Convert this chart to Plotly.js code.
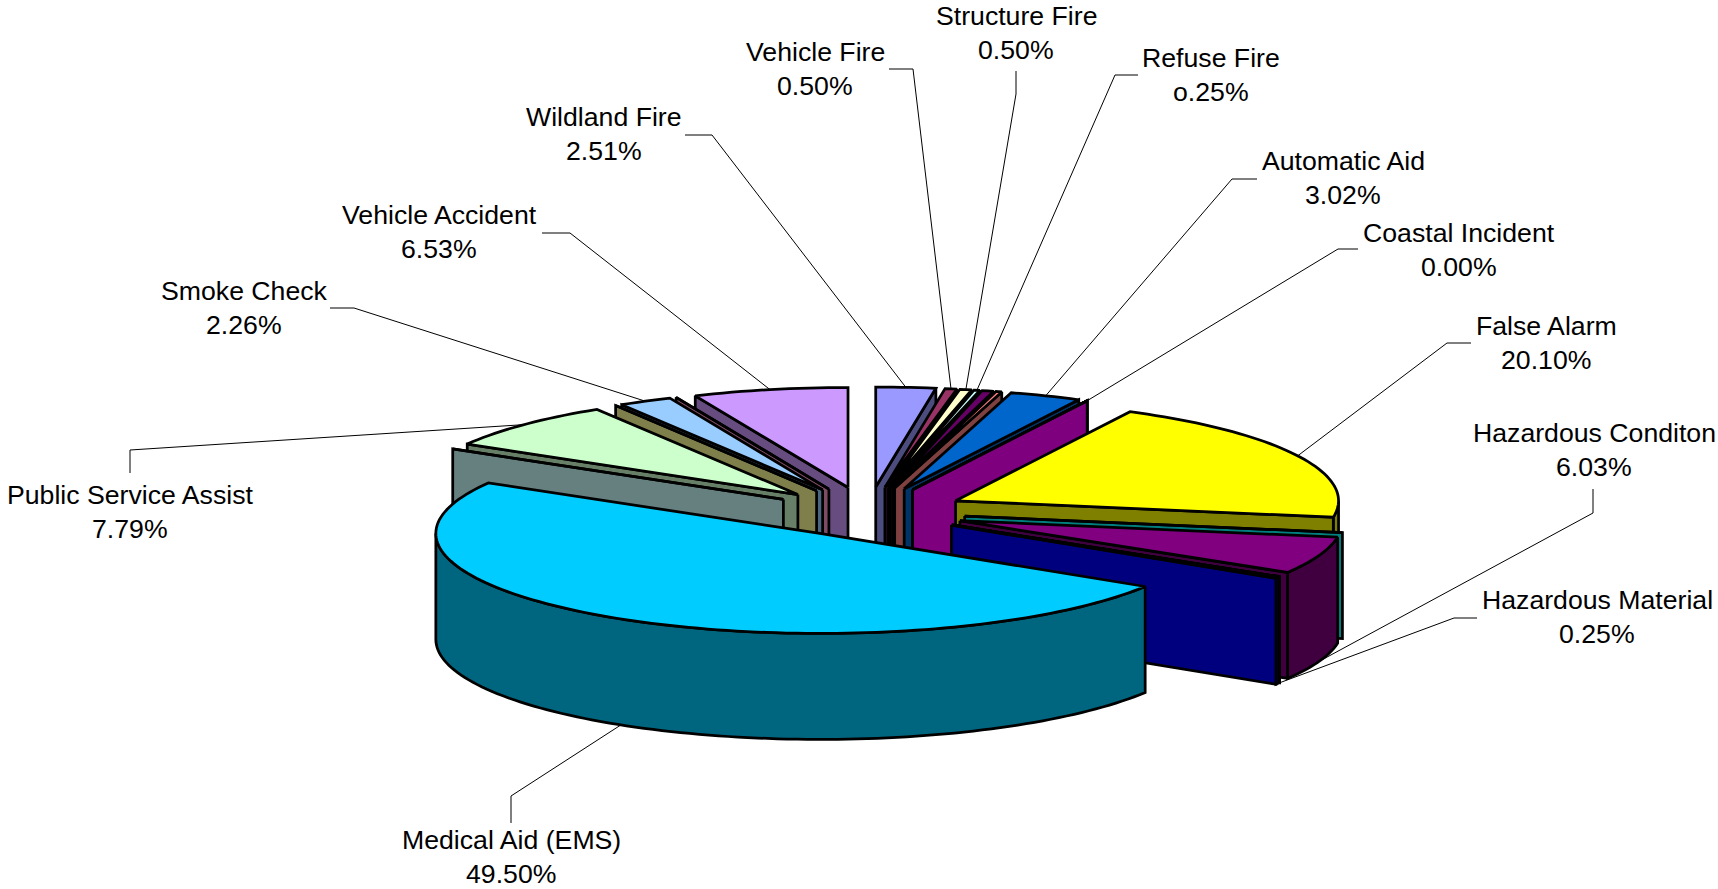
<!DOCTYPE html>
<html>
<head>
<meta charset="utf-8">
<script src="https://cdn.plot.ly/plotly-3.0.1.min.js"></script>
<style>html,body{margin:0;padding:0;background:#fff;overflow:hidden}#chart{width:1718px;height:889px}</style>
</head>
<body>
<div id="chart"></div>
<script>
// Slices clockwise from 12 o'clock ("" = unlabelled category with no visible label)
var categories = ["Wildland Fire","Vehicle Fire","Structure Fire","Refuse Fire","","","Automatic Aid","","","Coastal Incident","False Alarm","","Hazardous Conditon","","","Hazardous Material","Medical Aid (EMS)","","Public Service Assist","","Smoke Check","","Vehicle Accident"];
var shares = [2.51,0.50,0.50,0.25,0.50,0.25,3.02,0,0,0,20.10,0,6.03,0,0,0.25,49.50,0,7.79,0,2.26,0,6.53];
var shareLabels = ["2.51%","0.50%","0.50%","o.25%","","","3.02%","","","0.00%","20.10%","","6.03%","","","0.25%","49.50%","","7.79%","","2.26%","","6.53%"];
var colors = ["#9999FF","#993366","#FFFFCC","#CCFFFF","#660066","#FF8080","#0066CC","#CCCCFF","#000080","#FF00FF","#FFFF00","#00FFFF","#800080","#800000","#008080","#0000FF","#00CCFF","#CCFFFF","#CCFFCC","#FFFF99","#99CCFF","#FF99CC","#CC99FF"];

// Label placement, by category
var labelPlacement = {
  "Structure Fire":      {x:1016,y:33,  start:[1016,71],  elbow:[1016,94]},
  "Vehicle Fire":        {x:815, y:69,  start:[889,69],   elbow:[913,69]},
  "Refuse Fire":         {x:1211,y:75,  start:[1138,75],  elbow:[1115,75]},
  "Automatic Aid":       {x:1343,y:178, start:[1257,179], elbow:[1232,179]},
  "Coastal Incident":    {x:1459,y:250, start:[1358,249], elbow:[1338,249]},
  "False Alarm":         {x:1546,y:343, start:[1471,343], elbow:[1447,343]},
  "Hazardous Conditon":  {x:1594,y:450, start:[1593,489], elbow:[1593,513]},
  "Hazardous Material":  {x:1597,y:617, start:[1477,618], elbow:[1454,618]},
  "Medical Aid (EMS)":   {x:511, y:857, start:[511,823],  elbow:[511,796]},
  "Public Service Assist":{x:130,y:512, start:[130,473],  elbow:[130,450]},
  "Smoke Check":         {x:244, y:308, start:[330,308],  elbow:[354,308]},
  "Vehicle Accident":    {x:439, y:232, start:[542,233],  elbow:[570,233]},
  "Wildland Fire":       {x:604, y:134, start:[685,135],  elbow:[712,135]}
};
var LINE_GAP = 16.8;

// Pie geometry
var CX = 868, CY = 512, RX = 383, RY = 100, DEPTH = 106, EXPLODE_X = 98, EXPLODE_Y = 25;
var FRONT_SLICE = "Medical Aid (EMS)", FRONT_SHIFT = 2.6, FRONT_RX = 384;
var EDGE = 2.75;

function rad(d){return d*Math.PI/180;}
function darken(hex){
  var n=parseInt(hex.slice(1),16);
  return 'rgb('+((n>>16&255)>>1)+','+((n>>8&255)>>1)+','+((n&255)>>1)+')';
}
var total = shares.reduce(function(a,b){return a+b;},0), running = 0;
var slices = categories.map(function(name,i){
  var a0 = running/total*360; running += shares[i];
  var a1 = running/total*360, mid=(a0+a1)/2, isF = name===FRONT_SLICE;
  return {name:name,i:i,a0:a0,a1:a1,mid:mid,rx:isF?FRONT_RX:RX,
    ax:CX+EXPLODE_X*Math.sin(rad(mid))+(isF?FRONT_SHIFT:0), ay:CY-EXPLODE_Y*Math.cos(rad(mid))};
});
function rim(s,a,z){return [s.ax+s.rx*Math.sin(rad(a)), s.ay-RY*Math.cos(rad(a))+z];}
function arcAngles(from,to){
  var out=[], n=Math.max(1,Math.ceil((to-from)/1.5));
  for(var k=0;k<=n;k++) out.push(from+(to-from)*k/n);
  return out;
}
function poly(pts,fill){
  var xs=pts.map(function(p){return p[0];}), ys=pts.map(function(p){return p[1];});
  xs.push(xs[0]); ys.push(ys[0]);
  return {type:'scatter',mode:'lines',x:xs,y:ys,fill:'toself',fillcolor:fill,
    line:{color:'#000',width:EDGE,simplify:false},hoverinfo:'skip',showlegend:false};
}
function sliceTraces(s){
  var out=[], side=darken(colors[s.i]);
  var from=Math.max(s.a0,90), to=Math.min(s.a1,270);
  if(to>from){
    var ang=arcAngles(from,to);
    var top=ang.map(function(a){return rim(s,a,0);});
    var bottom=ang.slice().reverse().map(function(a){return rim(s,a,DEPTH);});
    out.push(poly(top.concat(bottom),side));
  }
  var faceAngle=null;
  if(s.a1<180) faceAngle=s.a1; else if(s.a0>=180) faceAngle=s.a0;
  if(faceAngle!==null){
    out.push(poly([[s.ax,s.ay],rim(s,faceAngle,0),rim(s,faceAngle,DEPTH),[s.ax,s.ay+DEPTH]],side));
  }
  out.push(poly([[s.ax,s.ay]].concat(arcAngles(s.a0,s.a1).map(function(a){return rim(s,a,0);})),colors[s.i]));
  return out;
}

var traces=[], annotations=[];
function textLine(x,y,text){
  return {x:x,y:y,xref:'x',yref:'y',showarrow:false,xanchor:'center',yanchor:'middle',align:'center',text:text,
    font:{family:'"Liberation Sans",Arial,sans-serif',size:26.67,color:'#000'}};
}
slices.forEach(function(s){
  var p=labelPlacement[s.name];
  if(!p) return;
  var end=rim(s,s.mid,(s.mid>90&&s.mid<270)?DEPTH:0);
  traces.push({type:'scatter',mode:'lines',x:[p.start[0],p.elbow[0],end[0]],y:[p.start[1],p.elbow[1],end[1]],
    line:{color:'#000',width:1},hoverinfo:'skip',showlegend:false});
  annotations.push(textLine(p.x,p.y-LINE_GAP,s.name));
  annotations.push(textLine(p.x,p.y+LINE_GAP,shareLabels[s.i]));
});
// Back to front: right side by rising angle, left side by falling angle, largest front slice last
var isFront=function(s){return s.name===FRONT_SLICE;};
var right=slices.filter(function(s){return s.mid<180&&!isFront(s);});
var left=slices.filter(function(s){return s.mid>=180&&!isFront(s);}).reverse();
right.concat(left).concat(slices.filter(isFront)).forEach(function(s){traces=traces.concat(sliceTraces(s));});

var hiddenAxis={showgrid:false,zeroline:false,showticklabels:false,ticks:'',showline:false,fixedrange:true};
Plotly.newPlot('chart',traces,{
  width:1718,height:889,margin:{l:0,r:0,t:0,b:0},paper_bgcolor:'#fff',plot_bgcolor:'#fff',showlegend:false,
  xaxis:Object.assign({range:[0,1718]},hiddenAxis),
  yaxis:Object.assign({range:[889,0]},hiddenAxis),
  annotations:annotations,hovermode:false
},{displayModeBar:false,staticPlot:true});
</script>
</body>
</html>
